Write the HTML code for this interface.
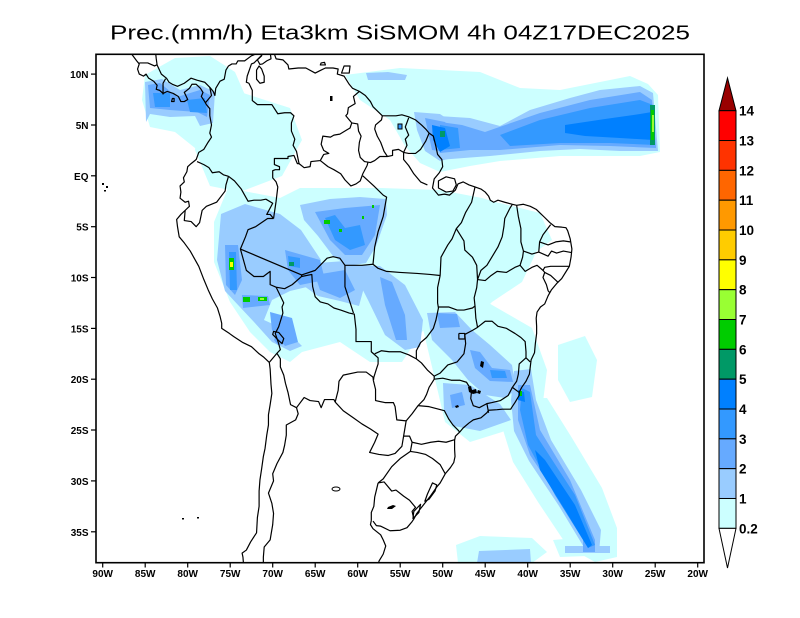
<!DOCTYPE html>
<html><head><meta charset="utf-8">
<style>
html,body{margin:0;padding:0;background:#fff}
svg{display:block}
.m polyline,.m polygon{vector-effect:non-scaling-stroke}
</style></head>
<body>
<svg width="800" height="618" viewBox="0 0 800 618" xmlns="http://www.w3.org/2000/svg" font-family="Liberation Sans, sans-serif">
<rect width="800" height="618" fill="#fff"/>
<defs><clipPath id="pc"><rect x="96" y="54.3" width="608" height="508.4"/></clipPath></defs>

<g clip-path="url(#pc)">
<!-- 0.2-1 cyan -->
<g fill="#ccffff">
<polygon points="145,75 175,58 210,56 235,72 245,95 232,120 226,150 215,172 200,152 175,132 150,127 142,100"/>
<polygon points="200,100 240,92 290,108 302,140 282,176 240,192 210,186 195,150"/>
<polygon points="345,75 400,68 480,72 520,88 560,90 600,82 630,76 648,84 658,95 660,152 640,156 560,156 500,161 470,166 440,172 420,163 405,146 390,120 360,100"/>
<polygon points="228,188 280,198 300,188 380,188 440,190 482,198 522,210 542,240 522,282 492,302 472,322 440,312 422,332 402,362 370,362 340,342 302,352 290,362 270,352 250,332 230,302 214,262 214,222"/>
<polygon points="418,308 480,298 532,328 547,370 542,410 522,422 502,432 470,442 445,422 438,392 428,350"/>
<polygon points="513,398 547,398 572,438 602,488 617,528 617,557 595,562 568,547 538,502 513,462 503,430"/>
<polygon points="558,345 585,336 597,360 592,397 570,402 558,380"/>
<polygon points="456,545 480,536 532,538 547,552 532,563 458,563"/>
<polygon points="553,540 600,536 614,555 560,557"/>
<polygon points="468,215 500,203 540,213 552,240 522,262 490,252 468,240"/>
</g>
<!-- 1-2 -->
<g fill="#99ccff">
<polygon points="145,82 162,79 180,90 200,85 215,92 213,123 200,126 195,116 170,117 150,114 146,122"/>
<polygon points="438,116 470,118 500,126 530,110 570,98 600,90 640,86 653,93 658,151 620,151 580,149 540,151 490,156 438,160"/>
<polygon points="414,112 440,114 455,124 470,135 460,156 440,161 425,151 417,130"/>
<polygon points="300,205 330,199 360,197 386,199 387,215 376,246 366,263 348,266 333,256 318,236 304,220"/>
<polygon points="221,214 245,204 280,214 301,230 321,260 311,286 290,291 272,300 264,320 286,330 302,346 290,351 272,342 254,322 239,306 225,291 217,260"/>
<polygon points="304,264 345,261 366,280 359,306 340,301 318,296 304,286"/>
<polygon points="350,265 380,266 405,285 423,320 420,347 405,350 385,335 368,300"/>
<polygon points="427,313 455,312 472,330 490,345 512,365 516,390 505,398 485,395 468,380 452,360 432,340"/>
<polygon points="514,371 531,369 536,400 551,440 581,490 601,530 599,553 585,549 559,506 529,461 514,431 511,400"/>
<polygon points="443,383 470,385 500,404 511,420 480,431 454,426 444,410"/>
<polygon points="479,551 530,549 531,563 477,563"/>
<polygon points="565,546 610,546 610,553 565,553"/>
<polygon points="366,73 388,72 407,75 405,80 368,80"/>
</g>
<!-- 2-3 -->
<g fill="#66aaff">
<polygon points="148,85 160,83 177,97 200,90 210,95 207,117 197,112 170,110 150,108"/>
<polygon points="440,122 462,125 485,132 540,113 590,100 640,92 652,100 656,148 610,146 560,145 500,150 470,150 440,153"/>
<polygon points="425,118 445,122 455,135 448,152 432,150"/>
<polygon points="315,212 345,208 380,205 375,235 362,255 345,255 330,240"/>
<polygon points="225,245 238,245 242,280 235,295 226,285"/>
<polygon points="242,295 268,296 270,305 243,308"/>
<polygon points="285,250 320,260 325,280 300,285 288,270"/>
<polygon points="270,312 292,318 298,342 285,346 272,330"/>
<polygon points="315,275 345,270 355,290 340,298 320,290"/>
<polygon points="380,277 392,282 405,315 407,340 396,340 385,305"/>
<polygon points="437,313 457,314 460,327 440,328"/>
<polygon points="470,350 480,352 492,368 510,370 513,382 490,381 475,368"/>
<polygon points="518,385 530,385 540,430 570,480 595,540 588,548 560,500 530,455 518,420"/>
<polygon points="583,540 595,540 595,552 583,552"/>
<polygon points="450,395 462,392 465,405 452,408"/>
<polygon points="277,334 283,336 284,344 278,345 274,340"/>
</g>
<!-- 3-4 -->
<g fill="#3399ff">
<polygon points="153,93 170,93 170,107 155,107"/>
<polygon points="187,100 205,98 207,113 190,112"/>
<polygon points="500,135 540,120 590,108 640,100 653,105 655,145 610,143 560,143 510,146"/>
<polygon points="440,125 458,128 460,148 440,150"/>
<polygon points="325,218 335,215 345,228 360,225 365,245 350,250 335,240"/>
<polygon points="229,252 236,252 237,290 230,290"/>
<polygon points="288,256 300,258 300,268 289,266"/>
<polygon points="490,370 505,371 507,378 492,378"/>
<polygon points="522,388 530,392 536,435 575,495 595,545 588,548 555,495 528,445 520,410"/>
</g>
<!-- 4-5 -->
<g fill="#0080ff">
<polygon points="565,125 605,119 640,114 652,112 653,140 620,138 585,136 565,133"/>
<polygon points="432,125 445,128 450,146 440,152 433,140"/>
<polygon points="535,450 545,460 575,505 592,545 588,548 565,510 540,470"/>
<polygon points="518,390 524,392 525,402 518,400"/>
</g>
<!-- greens -->
<rect x="650" y="105" width="5" height="40" fill="#009966"/>
<rect x="651" y="110" width="3" height="30" fill="#00cc00"/>
<rect x="652" y="115" width="2" height="17" fill="#99ff33"/>
<rect x="229" y="258" width="5" height="12" fill="#00cc00"/>
<rect x="230" y="262" width="3" height="5" fill="#ffff00"/>
<rect x="243" y="297" width="7" height="5" fill="#00cc00"/>
<rect x="258" y="297" width="9" height="4" fill="#00cc00"/>
<rect x="260" y="298" width="4" height="2" fill="#99ff33"/>
<rect x="289" y="262" width="5" height="4" fill="#009966"/>
<rect x="324" y="220" width="6" height="4" fill="#00cc00"/>
<rect x="339" y="229" width="3" height="3" fill="#00cc00"/>
<rect x="362" y="216" width="2" height="3" fill="#00cc00"/>
<rect x="372" y="205" width="2" height="3" fill="#00cc00"/>
<rect x="519" y="391" width="3" height="5" fill="#00cc00"/>
<rect x="440" y="131" width="5" height="6" fill="#009966"/>

<!-- black reservoirs -->
<g fill="#000">
<polygon points="481,361 484,362 483,368 480,366"/>
<polygon points="468,387 471,386 472,390 476,389 477,393 473,394 469,392"/>
<polygon points="478,390 481,391 480,394 477,393"/>
<polygon points="455,406 458,405 459,407 456,408"/>
<polygon points="388,507 393,505 396,506 392,509 387,509"/>
<polygon points="330,96 332.5,96 332.5,101 330,101"/>
<rect x="102" y="183" width="2" height="2"/><rect x="106" y="186" width="2" height="2"/><rect x="104" y="190" width="2" height="1.5"/>
<rect x="182" y="518" width="2" height="1.5"/><rect x="197" y="517" width="2" height="1.5"/>
</g>
<rect x="398" y="124" width="4" height="5" fill="#3399ff" stroke="#000" stroke-width="1"/>
<ellipse cx="336" cy="489" rx="4" ry="2" fill="none" stroke="#000" stroke-width="1"/>

<!-- map lines -->
<g class="m" transform="matrix(8.5 0 0 -10.17 867.7 175.8)" fill="none" stroke="#000" stroke-width="1.2" stroke-linejoin="round">
<polyline points="-86.8,12.2 -86.0,11.3 -85.7,11.0 -85.9,10.5 -85.7,10.0 -85.2,9.8 -84.9,10.0 -84.6,9.6 -84.0,9.3 -83.6,8.9 -83.7,8.5 -83.3,8.4 -82.9,8.1 -82.4,8.3 -81.7,8.1 -81.1,7.8 -80.8,7.3 -80.4,7.3 -80.0,7.5 -80.4,8.2 -79.8,8.6 -79.5,9.0 -79.0,9.0 -78.5,8.6 -78.2,8.2 -78.4,7.8 -78.0,7.3 -77.8,7.0 -77.4,6.6 -77.4,5.9 -77.2,5.0 -77.4,4.2 -77.2,3.8 -77.6,3.3 -78.1,2.6 -78.7,2.3 -79.0,1.6 -79.6,1.2 -80.0,0.9 -80.1,0.4 -80.5,-0.2 -80.4,-0.6 -80.9,-1.0 -80.8,-1.6 -80.9,-2.2 -80.3,-2.6 -79.9,-2.5 -79.8,-3.0 -80.3,-3.4 -80.8,-3.8 -81.3,-4.3 -81.2,-5.0 -81.1,-5.5 -81.0,-6.0 -80.4,-6.6 -79.7,-7.4 -79.3,-8.0 -78.7,-8.9 -78.1,-10.2 -77.6,-11.2 -77.1,-12.1 -76.5,-13.0 -76.2,-13.8 -76.0,-14.5 -76.0,-15.0 -75.1,-15.5 -74.6,-15.8 -73.5,-16.4 -72.5,-16.8 -71.6,-17.5 -71.1,-17.8 -70.4,-18.35 -70.3,-19.0 -70.2,-20.5 -70.1,-21.4 -70.3,-22.5 -70.5,-23.5 -70.5,-24.5 -70.7,-25.5 -70.9,-26.8 -71.1,-27.6 -71.3,-28.8 -71.5,-29.9 -71.6,-31.0 -71.6,-32.5 -71.8,-33.6 -71.9,-35.1 -72.6,-36.0 -73.1,-36.8 -73.6,-37.1 -73.5,-37.5 -73.4,-38.5"/>
<polyline points="-57.6,-38.5 -57.5,-37.9 -57.0,-37.2 -56.7,-36.4 -57.0,-35.8 -57.3,-35.3 -58.2,-34.7 -58.5,-34.3 -58.4,-33.9"/>
<polyline points="-58.2,-33.95 -57.8,-34.4 -57.3,-34.45 -56.2,-34.9 -55.0,-34.85 -54.2,-34.6 -53.6,-34.0 -53.4,-33.75 -53.05,-33.2 -52.4,-32.5 -51.5,-31.55 -50.7,-30.6 -50.3,-30.2 -49.7,-29.3 -49.1,-28.7 -48.7,-28.2 -48.55,-27.6 -48.6,-26.9 -48.6,-26.0 -48.5,-25.6 -48.0,-25.2 -47.6,-24.8 -46.9,-24.3 -46.4,-24.0 -45.5,-23.8 -44.8,-23.3 -44.6,-23.05 -43.6,-23.0 -43.0,-22.95 -42.0,-22.95 -41.9,-22.8 -41.5,-22.3 -41.0,-21.6 -40.95,-21.2 -40.7,-20.8 -40.2,-20.2 -39.8,-19.5 -39.7,-18.8 -39.6,-18.1 -39.2,-17.4 -39.1,-16.5 -38.95,-15.5 -38.95,-14.8 -39.0,-14.0 -38.9,-13.4 -38.5,-12.9 -38.0,-12.6 -37.6,-11.8 -37.2,-11.2 -36.6,-10.6 -36.0,-10.1 -35.4,-9.3 -35.1,-8.9 -34.9,-8.0 -34.8,-7.2 -35.0,-6.2 -35.3,-5.4 -35.5,-5.1 -36.0,-5.05 -36.8,-5.0 -37.4,-4.6 -38.0,-4.1 -38.5,-3.7 -39.0,-3.3 -39.7,-3.0 -40.5,-2.8 -41.3,-2.9 -41.8,-2.8 -42.7,-2.6 -43.5,-2.4 -44.0,-2.6 -44.4,-2.4 -44.6,-2.0 -45.0,-1.6 -45.5,-1.3 -46.2,-1.1 -46.9,-0.9 -47.6,-0.6 -48.2,-0.8 -48.5,-1.4 -49.2,-1.9 -49.8,-1.8 -50.5,-1.9 -51.2,-1.2 -51.0,-0.3 -50.4,0.3 -50.0,0.9 -50.1,1.6 -50.6,2.1 -50.8,2.9 -51.1,3.9 -51.6,4.2 -52.0,4.6 -52.5,5.0 -53.2,5.5 -54.0,5.8 -54.8,6.0 -55.5,5.9 -56.0,5.9 -57.1,5.9 -57.6,6.3 -58.2,6.8 -58.5,7.3 -59.1,7.9 -59.8,8.3 -60.6,8.6 -61.0,9.0 -61.6,9.8 -62.4,10.0 -62.3,10.5 -62.9,10.6 -63.8,10.6 -64.3,10.4 -65.0,10.1 -66.1,10.6 -67.0,10.6 -68.1,10.5 -68.2,10.9 -68.8,11.4 -69.6,11.5 -69.9,12.2 -70.3,12.2 -70.2,11.5 -70.7,11.3 -71.2,11.0 -71.5,10.95 -71.8,11.4 -71.3,11.8 -71.2,12.3"/>
<polyline points="-71.6,12.4 -72.2,11.9 -72.5,11.8 -73.3,11.3 -74.1,11.3 -74.3,11.0 -74.8,11.0 -75.2,10.8 -75.5,10.4 -75.7,9.5 -76.2,9.3 -76.7,8.6 -76.8,7.9 -77.0,8.3 -77.4,8.7 -78.0,9.2 -78.9,9.4 -79.6,9.6 -80.4,9.1 -81.2,8.8 -81.8,9.0 -82.2,9.2 -82.5,9.6 -83.1,10.0 -83.6,10.9 -83.7,11.5 -83.8,12.3"/>
<polygon points="-50.5,-0.5 -49.6,-0.1 -48.6,-0.3 -48.4,-0.9 -48.8,-1.5 -49.6,-1.6 -50.5,-1.2"/>
<polygon points="-61.9,10.1 -61.0,10.1 -60.9,10.8 -61.6,10.8"/>
<polygon points="-64.4,10.9 -63.8,10.9 -63.9,11.15 -64.3,11.1"/>
<polygon points="-81.9,7.3 -81.6,7.3 -81.6,7.6 -81.8,7.6"/>
<polygon points="-71.6,10.8 -71.9,10.4 -71.9,9.5 -71.5,9.1 -71.0,9.2 -71.0,9.8 -71.3,10.5"/>
<polygon points="-69.9,-15.3 -69.3,-15.4 -68.7,-16.0 -68.9,-16.5 -69.3,-16.2 -70.0,-15.6"/>
<polygon points="-51.2,-30.2 -50.7,-30.4 -50.9,-31.0 -51.6,-31.8 -52.1,-32.0 -51.8,-31.3"/>
<polygon points="-52.6,-32.3 -52.8,-33.1 -53.5,-33.7 -53.4,-33.0"/>
<polyline points="-85.7,11.1 -84.7,11.1 -83.9,10.8 -83.65,10.9"/>
<polyline points="-82.6,9.55 -82.9,9.1 -82.9,8.0"/>
<polyline points="-77.4,8.7 -77.2,7.9 -77.9,7.2"/>
<polyline points="-71.3,11.85 -72.2,11.1 -72.5,11.0 -73.0,9.8 -73.1,9.2 -72.8,9.1 -72.4,8.4 -72.4,7.4 -71.8,7.0 -71.0,7.0 -70.1,7.0 -69.4,6.1 -68.6,6.2 -67.9,6.2 -67.5,5.9 -67.8,5.2 -67.8,4.4 -67.4,3.6 -67.6,3.0 -67.2,2.4 -66.9,1.2"/>
<polyline points="-66.9,1.2 -66.3,0.8 -65.6,0.9 -65.5,1.4 -64.4,1.5 -64.0,2.1 -63.4,2.2 -64.0,2.5 -64.3,3.1 -64.1,3.9 -63.2,3.8 -62.8,4.0 -62.1,4.1 -61.3,4.5 -60.9,4.7 -60.7,5.2"/>
<polyline points="-60.7,5.2 -61.4,5.9 -61.2,6.1 -61.1,6.7 -60.3,7.1 -60.5,7.8 -59.8,8.3"/>
<polyline points="-60.7,5.2 -60.0,5.1 -59.9,4.4 -59.6,3.9 -59.8,3.3 -59.9,2.5 -59.7,1.8 -59.2,1.4 -58.5,1.3 -58.0,1.5 -57.4,1.9 -56.5,1.9"/>
<polyline points="-56.5,1.9 -56.9,2.4 -57.3,3.3 -57.7,3.9 -58.0,4.6 -57.9,5.0 -57.2,5.5 -57.1,5.9"/>
<polyline points="-56.5,1.9 -55.9,2.0 -55.9,2.5 -55.2,2.6 -54.6,2.3"/>
<polyline points="-54.6,2.3 -54.2,3.0 -54.4,3.6 -54.0,4.0 -54.4,4.8 -54.0,5.7"/>
<polyline points="-54.6,2.3 -54.0,2.2 -53.2,2.2 -52.6,2.6 -52.0,3.4 -51.6,4.2"/>
<polyline points="-66.9,1.2 -67.1,1.2 -67.5,2.0 -68.2,1.9 -68.2,1.7 -69.3,1.7 -69.8,1.7 -69.8,1.1 -69.2,0.9 -69.2,0.6 -69.7,0.6 -70.0,0.5 -70.0,-0.2 -69.6,-0.6 -69.4,-1.1 -69.6,-2.5 -69.9,-4.2"/>
<polyline points="-69.9,-4.2 -70.3,-3.8 -70.7,-3.8 -70.0,-2.7 -70.8,-2.3 -71.4,-2.4 -72.2,-2.4 -72.9,-2.5 -73.7,-1.3 -74.5,-0.5 -75.2,-0.05"/>
<polyline points="-75.2,-0.05 -75.8,0.1 -76.3,0.4 -77.1,0.3 -77.5,0.8 -78.1,1.1 -78.9,1.4"/>
<polyline points="-75.2,-0.05 -75.5,-0.9 -75.6,-1.5 -76.6,-2.6 -77.8,-3.0 -78.3,-3.4 -78.6,-4.6 -79.0,-5.0 -79.6,-4.5 -80.4,-4.4 -80.3,-3.4"/>
<polyline points="-69.9,-4.2 -70.6,-4.2 -72.0,-5.0 -72.9,-5.3 -73.2,-6.0 -73.8,-7.2 -73.1,-9.3 -72.2,-9.9 -71.1,-9.9 -70.3,-9.4 -70.3,-10.7 -69.6,-10.95"/>
<polyline points="-69.6,-10.95 -68.7,-12.5 -68.9,-12.9 -68.8,-13.5 -69.3,-14.85 -69.7,-15.5 -69.3,-16.5 -69.1,-17.1 -69.5,-17.45 -70.4,-18.35"/>
<polyline points="-69.5,-17.45 -69.1,-18.0 -69.1,-18.8 -68.7,-19.6 -68.5,-20.4 -68.2,-21.3 -67.9,-22.5 -67.2,-22.8"/>
<polyline points="-67.2,-22.8 -66.3,-21.8 -65.6,-22.1 -64.6,-22.2 -64.3,-22.8 -63.9,-22.0 -62.8,-22.0 -62.65,-22.25"/>
<polyline points="-62.65,-22.25 -62.3,-21.1 -62.2,-20.2 -61.7,-19.6 -60.0,-19.3 -59.0,-19.3 -58.2,-19.8 -58.15,-20.15"/>
<polyline points="-67.2,-22.8 -67.0,-23.4 -67.3,-24.0 -68.4,-24.5 -68.4,-25.5 -68.6,-26.5 -68.8,-27.2 -69.5,-28.3 -70.0,-29.3 -69.9,-30.0 -70.5,-31.2 -70.1,-32.2 -69.9,-33.2 -70.0,-34.3 -70.3,-35.8 -71.0,-36.5 -71.1,-37.5 -71.1,-38.5"/>
<polyline points="-62.65,-22.25 -61.7,-23.1 -60.5,-23.8 -59.5,-24.4 -58.5,-24.9 -57.6,-25.4 -58.0,-26.2 -58.6,-27.2 -57.5,-27.4 -56.4,-27.5 -55.6,-27.3 -54.8,-26.6 -54.6,-25.6"/>
<polyline points="-58.15,-20.15 -57.9,-21.0 -57.9,-22.1 -56.8,-22.3 -55.8,-22.3 -55.6,-22.7 -55.4,-24.0 -54.3,-24.1 -54.6,-25.6"/>
<polyline points="-54.6,-25.6 -53.9,-25.6 -53.6,-26.2 -53.8,-27.1 -55.0,-27.8 -56.0,-28.6 -57.0,-29.8 -57.6,-30.2"/>
<polyline points="-57.6,-30.2 -57.8,-30.9 -58.0,-31.6 -58.1,-32.5 -58.4,-33.1 -58.4,-33.9"/>
<polyline points="-57.6,-30.2 -56.9,-30.1 -56.0,-31.0 -55.5,-30.9 -54.6,-31.5 -53.9,-31.9 -53.2,-32.6 -53.6,-33.0 -53.4,-33.75"/>
<polyline points="-69.6,-10.95 -68.6,-11.1 -67.7,-10.7 -66.6,-9.9 -65.4,-9.7 -65.3,-10.9 -65.0,-11.9 -64.4,-12.4 -63.5,-12.6 -62.8,-13.0 -62.0,-13.2 -61.0,-13.5 -60.4,-13.6 -60.2,-15.1 -60.2,-16.3 -58.4,-16.3 -58.4,-17.3 -57.6,-17.9 -57.6,-18.5 -57.8,-19.0 -58.1,-19.8 -58.15,-20.15"/>
<polyline points="-54.6,2.3 -54.6,1.6 -54.0,1.0 -53.4,0.2 -52.6,-0.6 -51.8,-0.9"/>
<polyline points="-64.4,1.5 -63.5,0.9 -62.8,0.6 -62.0,0.2 -61.5,-0.4 -60.8,-1.0 -60.2,-0.8 -59.7,-0.5 -59.4,0.2 -58.9,1.0 -58.8,1.3"/>
<polyline points="-59.4,0.0 -58.1,-1.0 -57.0,-1.9 -56.6,-2.1 -57.0,-4.0 -57.6,-5.5 -58.0,-7.0 -58.2,-8.7"/>
<polyline points="-58.2,-8.7 -59.5,-8.8 -61.5,-8.8"/>
<polyline points="-58.2,-8.7 -57.6,-9.1 -56.6,-9.4 -55.0,-9.5 -53.0,-9.6 -51.5,-9.7 -50.3,-9.8"/>
<polyline points="-73.8,-7.2 -66.6,-9.75 -65.0,-9.3 -63.6,-8.1 -62.9,-7.95 -62.1,-8.1 -61.5,-8.8"/>
<polyline points="-66.6,-9.75 -66.6,-9.9"/>
<polyline points="-61.5,-8.8 -61.5,-10.9 -60.5,-13.5"/>
<polyline points="-50.3,-9.8 -50.6,-11.0 -50.6,-12.5 -50.5,-13.0 -50.8,-14.2 -51.1,-15.0 -51.9,-15.9 -52.6,-16.4 -53.1,-17.2 -53.1,-18.0"/>
<polyline points="-53.1,-18.0 -54.0,-17.6 -55.0,-17.3 -56.3,-17.3 -57.2,-17.2 -58.0,-17.5"/>
<polyline points="-53.1,-18.0 -52.5,-18.4 -51.8,-19.1 -51.0,-19.7 -51.0,-20.0 -51.6,-20.8 -51.9,-21.5 -52.2,-22.0 -52.9,-22.6 -53.6,-23.4 -54.3,-24.1"/>
<polyline points="-51.0,-19.7 -50.3,-19.4 -49.4,-18.6 -48.3,-18.3 -47.5,-17.5 -47.3,-16.5 -47.4,-15.6 -46.5,-15.2 -45.9,-14.9"/>
<polyline points="-48.1,-15.5 -47.4,-15.5 -47.4,-16.05 -48.1,-16.05 -48.1,-15.5"/>
<polyline points="-50.5,-12.9 -49.3,-12.9 -48.3,-13.2 -47.5,-13.2 -46.5,-13.0 -46.2,-12.8 -46.3,-12.0 -46.0,-11.0 -45.9,-10.2"/>
<polyline points="-46.2,-12.8 -46.1,-14.0 -45.9,-14.9 -45.0,-14.3 -44.2,-14.3 -43.5,-14.8 -42.5,-15.0 -41.5,-15.5 -40.8,-15.9 -40.3,-16.3 -40.2,-17.3 -40.2,-17.9 -39.7,-18.3"/>
<polyline points="-40.2,-17.9 -41.0,-18.5 -41.1,-19.5 -41.3,-20.2 -41.8,-20.8 -41.0,-21.3"/>
<polyline points="-41.8,-20.8 -42.3,-21.6 -43.2,-22.1 -44.2,-22.3 -44.8,-22.4 -44.6,-23.3"/>
<polyline points="-44.8,-22.4 -45.7,-22.8 -46.4,-22.6 -46.7,-21.9 -46.6,-21.1 -47.2,-20.3 -48.0,-20.1 -49.0,-20.1 -50.0,-19.9 -51.0,-20.0"/>
<polyline points="-52.9,-22.6 -51.6,-22.7 -50.7,-22.9 -49.8,-23.1 -49.3,-23.9 -48.8,-24.5 -48.2,-25.0 -48.0,-25.2"/>
<polyline points="-53.6,-26.2 -52.5,-26.4 -51.4,-26.2 -50.5,-26.1 -49.6,-26.2 -48.6,-25.95"/>
<polyline points="-53.8,-27.1 -53.0,-27.2 -52.0,-27.4 -51.2,-27.8 -50.3,-28.4 -49.7,-29.3"/>
<polyline points="-50.3,-9.8 -50.2,-8.0 -49.4,-6.8 -48.9,-6.2 -48.4,-5.2 -47.8,-4.6 -47.3,-3.6 -46.6,-2.6 -46.2,-1.1"/>
<polyline points="-48.4,-5.2 -47.5,-6.4 -47.4,-7.3 -46.5,-8.0 -46.0,-8.8 -45.9,-10.2"/>
<polyline points="-45.9,-10.2 -45.5,-9.3 -44.8,-8.8 -43.5,-7.0 -43.0,-6.0 -42.8,-5.0 -42.7,-4.2 -42.1,-3.2 -41.8,-2.8"/>
<polyline points="-45.9,-10.2 -45.0,-10.3 -44.3,-9.8 -43.6,-9.4 -42.5,-9.5 -41.5,-9.0 -40.9,-8.8"/>
<polyline points="-41.3,-2.9 -41.1,-4.0 -40.8,-5.2 -40.8,-6.5 -40.5,-7.4 -40.6,-8.0 -40.9,-8.8"/>
<polyline points="-40.5,-7.4 -39.5,-7.7 -38.7,-7.5 -38.6,-6.5 -38.2,-5.8 -37.3,-4.8"/>
<polyline points="-38.6,-6.5 -37.6,-6.8 -36.7,-6.5 -35.8,-6.4 -35.0,-6.5"/>
<polyline points="-38.7,-7.5 -37.6,-7.9 -37.2,-7.4 -36.6,-7.6 -35.8,-7.4 -34.85,-7.55"/>
<polyline points="-40.9,-8.8 -40.3,-9.4 -39.5,-9.0 -38.9,-8.8 -38.2,-9.3 -38.0,-9.0 -37.3,-8.9 -36.5,-8.9 -35.7,-8.9 -35.1,-8.9"/>
<polyline points="-38.2,-9.3 -38.0,-9.5 -37.3,-9.8 -36.4,-10.5"/>
<polyline points="-38.0,-9.5 -38.2,-10.0 -37.8,-10.7 -37.6,-11.3 -37.4,-11.5"/>
</g>
</g>

<rect x="96" y="54.3" width="608" height="508.4" fill="none" stroke="#000" stroke-width="1.6"/>

<g stroke="#000" stroke-width="1.2">
<line x1="91" y1="74.1" x2="96" y2="74.1"/><line x1="91" y1="125" x2="96" y2="125"/><line x1="91" y1="175.8" x2="96" y2="175.8"/><line x1="91" y1="226.7" x2="96" y2="226.7"/><line x1="91" y1="277.5" x2="96" y2="277.5"/><line x1="91" y1="328.4" x2="96" y2="328.4"/><line x1="91" y1="379.2" x2="96" y2="379.2"/><line x1="91" y1="430" x2="96" y2="430"/><line x1="91" y1="480.9" x2="96" y2="480.9"/><line x1="91" y1="531.8" x2="96" y2="531.8"/>
<line x1="102.7" y1="562.7" x2="102.7" y2="567.5"/><line x1="145.2" y1="562.7" x2="145.2" y2="567.5"/><line x1="187.7" y1="562.7" x2="187.7" y2="567.5"/><line x1="230.2" y1="562.7" x2="230.2" y2="567.5"/><line x1="272.7" y1="562.7" x2="272.7" y2="567.5"/><line x1="315.2" y1="562.7" x2="315.2" y2="567.5"/><line x1="357.7" y1="562.7" x2="357.7" y2="567.5"/><line x1="400.2" y1="562.7" x2="400.2" y2="567.5"/><line x1="442.7" y1="562.7" x2="442.7" y2="567.5"/><line x1="485.2" y1="562.7" x2="485.2" y2="567.5"/><line x1="527.7" y1="562.7" x2="527.7" y2="567.5"/><line x1="570.2" y1="562.7" x2="570.2" y2="567.5"/><line x1="612.7" y1="562.7" x2="612.7" y2="567.5"/><line x1="655.2" y1="562.7" x2="655.2" y2="567.5"/><line x1="697.7" y1="562.7" x2="697.7" y2="567.5"/>
</g>

<g font-size="10" font-weight="bold" fill="#000" text-anchor="end">
<text x="88.5" y="78">10N</text><text x="88.5" y="129">5N</text><text x="88.5" y="179.8">EQ</text><text x="88.5" y="230.7">5S</text><text x="88.5" y="281.5">10S</text><text x="88.5" y="332.4">15S</text><text x="88.5" y="383.2">20S</text><text x="88.5" y="434">25S</text><text x="88.5" y="484.9">30S</text><text x="88.5" y="535.8">35S</text>
</g>
<g font-size="10" font-weight="bold" fill="#000" text-anchor="middle">
<text x="102.7" y="577">90W</text><text x="145.2" y="577">85W</text><text x="187.7" y="577">80W</text><text x="230.2" y="577">75W</text><text x="272.7" y="577">70W</text><text x="315.2" y="577">65W</text><text x="357.7" y="577">60W</text><text x="400.2" y="577">55W</text><text x="442.7" y="577">50W</text><text x="485.2" y="577">45W</text><text x="527.7" y="577">40W</text><text x="570.2" y="577">35W</text><text x="612.7" y="577">30W</text><text x="655.2" y="577">25W</text><text x="697.7" y="577">20W</text>
</g>

<text x="110" y="39.5" font-size="20" fill="#000" textLength="580" lengthAdjust="spacingAndGlyphs">Prec.(mm/h) Eta3km SiSMOM 4h 04Z17DEC2025</text>

<g stroke="#000" stroke-width="1">
<polygon points="719,110.7 736,110.7 727.5,78" fill="#990000"/>
<rect x="719" y="110.7" width="17" height="29.83" fill="#ff0000"/>
<rect x="719" y="140.53" width="17" height="29.83" fill="#ff3300"/>
<rect x="719" y="170.36" width="17" height="29.83" fill="#ff6600"/>
<rect x="719" y="200.19" width="17" height="29.83" fill="#ff9900"/>
<rect x="719" y="230.02" width="17" height="29.83" fill="#ffcc00"/>
<rect x="719" y="259.85" width="17" height="29.83" fill="#ffff00"/>
<rect x="719" y="289.68" width="17" height="29.83" fill="#99ff33"/>
<rect x="719" y="319.51" width="17" height="29.83" fill="#00cc00"/>
<rect x="719" y="349.34" width="17" height="29.83" fill="#009966"/>
<rect x="719" y="379.17" width="17" height="29.83" fill="#0080ff"/>
<rect x="719" y="409.0" width="17" height="29.83" fill="#3399ff"/>
<rect x="719" y="438.83" width="17" height="29.83" fill="#66aaff"/>
<rect x="719" y="468.66" width="17" height="29.83" fill="#99ccff"/>
<rect x="719" y="498.49" width="17" height="29.83" fill="#ccffff"/>
<polygon points="719,528.32 736,528.32 727.5,568" fill="#fff"/>
</g>
<g font-size="13.5" font-weight="bold" fill="#000">
<text x="739" y="115.7">14</text><text x="739" y="145.5">13</text><text x="739" y="175.4">12</text><text x="739" y="205.2">11</text><text x="739" y="235">10</text><text x="739" y="264.9">9</text><text x="739" y="294.7">8</text><text x="739" y="324.5">7</text><text x="739" y="354.3">6</text><text x="739" y="384.2">5</text><text x="739" y="414">4</text><text x="739" y="443.8">3</text><text x="739" y="473.7">2</text><text x="739" y="503.5">1</text><text x="739" y="533.3">0.2</text>
</g>
</svg>
</body></html>
